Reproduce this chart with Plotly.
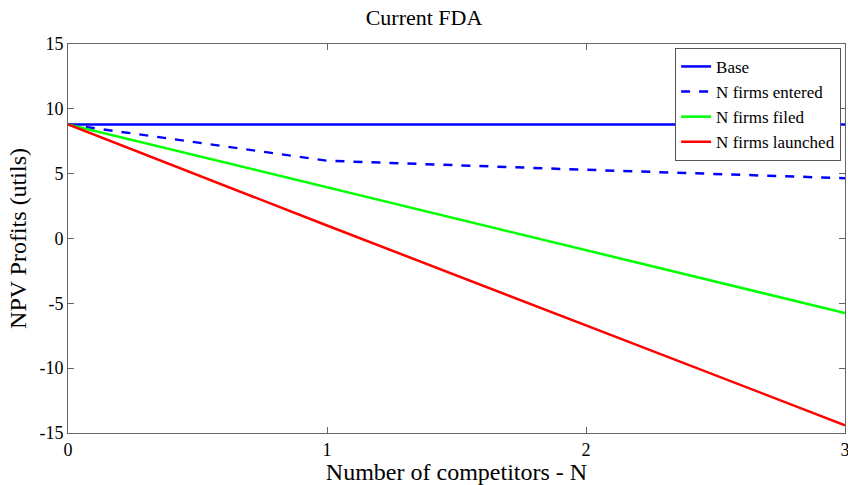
import plotly.graph_objects as go

N = [0, 1, 2, 3]
base = [8.8, 8.8, 8.8, 8.8]
entered = [8.8, 6.0, 5.3, 4.65]
filed = [8.8, 3.95, -0.9, -5.75]
launched = [8.8, 1.0, -6.7, -14.4]

y_ticks = [-15, -10, -5, 0, 5, 10, 15]
y_ticklabels = ["-15", "-10", "-5", "0", "5", "10", "15"]
x_ticks = [0, 1, 2, 3]

series = [
    ("Base", base, "#0000ff", "solid"),
    ("N firms entered", entered, "#0000ff", "dash"),
    ("N firms filed", filed, "#00ff00", "solid"),
    ("N firms launched", launched, "#ff0000", "solid"),
]

FONT = "Liberation Serif"

fig = go.Figure()
for name, vals, col, dash in series:
    fig.add_trace(go.Scatter(x=N, y=vals, mode="lines", name=name,
                             line=dict(color=col, width=2.5, dash=dash)))

axis_common = dict(showgrid=False, zeroline=False, showline=True, linecolor="#666666",
                   linewidth=1, mirror="ticks", ticks="inside", ticklen=6,
                   tickcolor="#666666", ticklabeloverflow="allow", automargin=False,
                   tickfont=dict(family=FONT, size=18, color="black"))

fig.update_layout(
    width=848, height=485,
    font=dict(family=FONT, color="black"),
    margin=dict(l=68, r=3, t=44, b=52),
    paper_bgcolor="white", plot_bgcolor="white",
    title=dict(text="Current FDA", x=0.5, xanchor="center", y=0.965, yanchor="middle",
               font=dict(family=FONT, size=22, color="black")),
    xaxis=dict(range=[0, 3], tickvals=x_ticks,
               title=dict(text="Number of competitors - N", font=dict(family=FONT, size=24, color="black"), standoff=2),
               **axis_common),
    yaxis=dict(range=[-15, 15], tickvals=y_ticks, ticktext=y_ticklabels,
               title=dict(text="NPV Profits (utils)", font=dict(family=FONT, size=24, color="black"), standoff=6),
               **axis_common),
    legend=dict(x=0.995, y=0.99, xanchor="right", yanchor="top",
                bgcolor="white", bordercolor="#555555", borderwidth=1,
                font=dict(family=FONT, size=17, color="black"),
                tracegroupgap=0, itemwidth=30),
    showlegend=True,
)

fig.write_html("out.html")
